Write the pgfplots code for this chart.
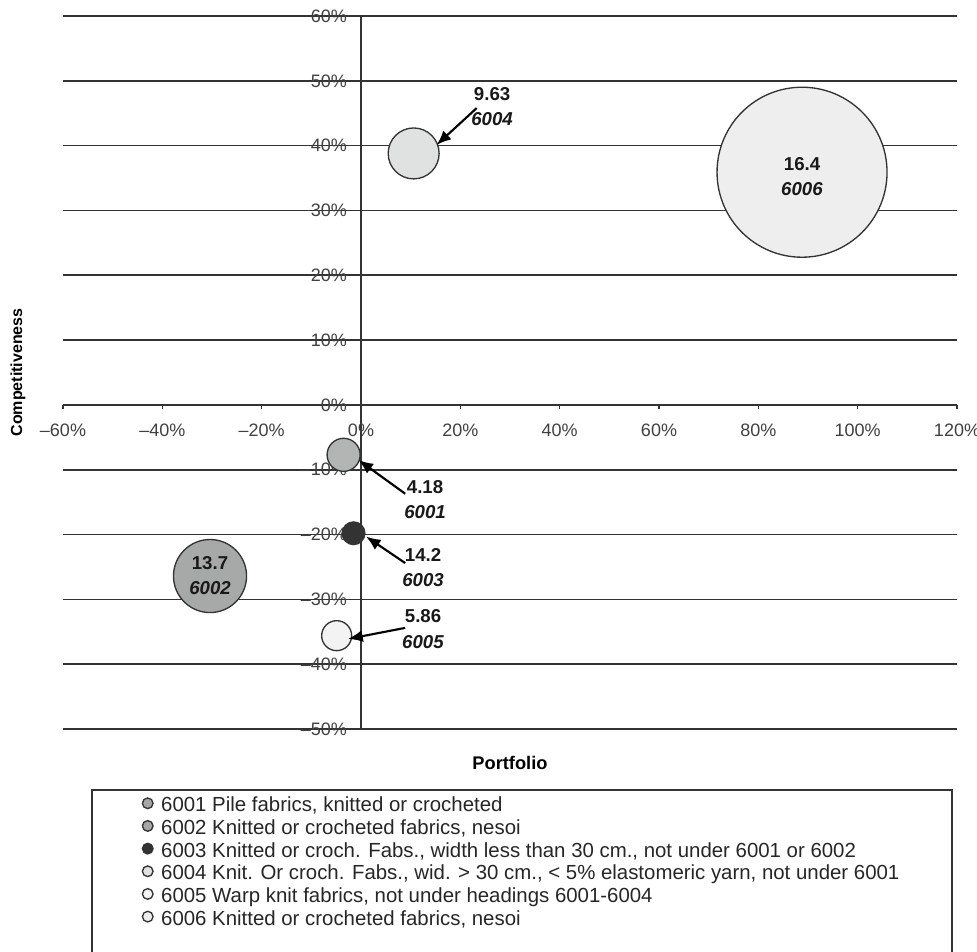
\documentclass[border=0pt]{standalone}
\usepackage{fontspec}
\setmainfont{Liberation Sans}
\usepackage{pgfplots}
\pgfplotsset{compat=1.18}
\usetikzlibrary{arrows.meta}

\definecolor{linec}{HTML}{333333}
\definecolor{c6001}{HTML}{B3B5B5}
\definecolor{c6002}{HTML}{A7A9A9}
\definecolor{c6003}{HTML}{333333}
\definecolor{c6004}{HTML}{E0E2E2}
\definecolor{c6005}{HTML}{F3F3F3}
\definecolor{c6006}{HTML}{EEEEEE}

\begin{document}
\begin{tikzpicture}
% 1 px of the reference = 0.75pt
\useasboundingbox (-47.25pt,-166.5pt) rectangle (685.5pt,546.75pt);
\begin{axis}[
  at={(0pt,0pt)}, anchor=south west,
  scale only axis, width=670.5pt, height=534.75pt,
  xmin=-60, xmax=120, ymin=-50, ymax=60,
  axis lines=middle,
  axis line style={-, draw=linec, line width=1.2pt},
  hide obscured x ticks=false, hide obscured y ticks=false,
  xtick={-60,-40,-20,0,20,40,60,80,100,120},
  xticklabels={--60\%,--40\%,--20\%,0\%,20\%,40\%,60\%,80\%,100\%,120\%},
  ytick={-50,-40,-30,-20,-10,0,10,20,30,40,50,60},
  yticklabels={--50\%,--40\%,--30\%,--20\%,--10\%,0\%,10\%,20\%,30\%,40\%,50\%,60\%},
  ymajorgrids, grid style={draw=linec, line width=1.2pt},
  major tick length=3pt, tick align=outside,
  tick style={draw=linec, line width=1.2pt},
  ticklabel style={font=\fontsize{13.5}{16}\selectfont, text=black!75},
  xticklabel style={anchor=north, yshift=-8pt},
  yticklabel style={anchor=east, xshift=-4pt},
  xlabel={Portfolio}, ylabel={Competitiveness},
  every axis x label/.style={at={(rel axis cs:0.5,0)}, anchor=center, yshift=-25.5pt, font=\bfseries\fontsize{13.7}{16}\selectfont},
  every axis y label/.style={at={(rel axis cs:0,0.5)}, anchor=center, rotate=90, yshift=33.75pt, font=\bfseries\fontsize{12}{14}\selectfont},
  legend cell align=left,
  legend style={draw=none, fill=none, at={(rel axis cs:0,0)}, anchor=north west,
    xshift=59.35pt, yshift=-49.5pt, inner sep=0pt, row sep=0pt, column sep=6.1pt,
    font=\fontsize{15.3}{17}\selectfont, text=black!85,
    nodes={inner xsep=0pt, inner ysep=1.5pt, text height=11pt, text depth=3pt}},
  legend image code/.code={\draw[#1] plot coordinates {(0pt,2.5pt)};},
]
% bubbles: (portfolio %, competitiveness %), size as drawn
\addplot[only marks, mark=*, mark size=12.4pt, mark options={draw=linec, line width=1pt, fill=c6001}, forget plot] coordinates {(-3.5,-7.7)};
\addplot[only marks, mark=*, mark size=27.4pt, mark options={draw=linec, line width=1pt, fill=c6002}, forget plot] coordinates {(-30.4,-26.4)};
\addplot[only marks, mark=*, mark size=8.5pt, mark options={draw=linec, line width=1pt, fill=c6003}, forget plot] coordinates {(-1.5,-19.8)};
\addplot[only marks, mark=*, mark size=19.1pt, mark options={draw=linec, line width=1pt, fill=c6004}, forget plot] coordinates {(10.6,38.8)};
\addplot[only marks, mark=*, mark size=11.25pt, mark options={draw=linec, line width=1pt, fill=c6005}, forget plot] coordinates {(-4.9,-35.6)};
\addplot[only marks, mark=*, mark size=63.75pt, mark options={draw=linec, line width=1pt, fill=c6006}, forget plot] coordinates {(88.8,35.9)};

% legend entries
\addlegendimage{only marks, mark=*, mark size=4pt, mark options={draw=linec, line width=1pt, fill=gray!70}}
\addlegendentry{6001 Pile fabrics, knitted or crocheted}
\addlegendimage{only marks, mark=*, mark size=4pt, mark options={draw=linec, line width=1pt, fill=gray!70}}
\addlegendentry{6002 Knitted or crocheted fabrics, nesoi}
\addlegendimage{only marks, mark=*, mark size=4pt, mark options={draw=linec, line width=1pt, fill=c6003}}
\addlegendentry{6003 Knitted or croch. Fabs., width less than 30 cm., not under 6001 or 6002}
\addlegendimage{only marks, mark=*, mark size=4pt, mark options={draw=linec, line width=1pt, fill=c6004}}
\addlegendentry{6004 Knit. Or croch. Fabs., wid. > 30 cm., < 5\% elastomeric yarn, not under 6001}
\addlegendimage{only marks, mark=*, mark size=4pt, mark options={draw=linec, line width=1pt, fill=c6005}}
\addlegendentry{6005 Warp knit fabrics, not under headings 6001-6004}
\addlegendimage{only marks, mark=*, mark size=4pt, mark options={draw=linec, line width=1pt, fill=c6006}}
\addlegendentry{6006 Knitted or crocheted fabrics, nesoi}

% anchor points for the data labels and arrows
\coordinate (l6004) at (axis cs:26.4,46.0);
\coordinate (l6006) at (axis cs:88.8,35.2);
\coordinate (l6001) at (axis cs:12.9,-14.6);
\coordinate (l6003) at (axis cs:12.5,-25.1);
\coordinate (l6005) at (axis cs:12.5,-34.6);
\coordinate (l6002) at (axis cs:-30.4,-26.3);
\coordinate (t6004) at (axis cs:23.3,45.8);  \coordinate (h6004) at (axis cs:15.2,40.1);
\coordinate (t6001) at (axis cs:8.9,-13.7);  \coordinate (h6001) at (axis cs:-0.5,-8.5);
\coordinate (t6003) at (axis cs:8.9,-24.4);  \coordinate (h6003) at (axis cs:1.0,-20.3);
\coordinate (t6005) at (axis cs:8.9,-34.4);  \coordinate (h6005) at (axis cs:-2.6,-36.1);
\end{axis}
% data labels and arrows above the bubbles
\begin{scope}[every node/.style={font=\bfseries\fontsize{14}{19}\selectfont, align=center, text=black!90}]
\node at (l6004) {9.63\\\textit{6004}};
\node at (l6006) {16.4\\\textit{6006}};
\node at (l6001) {4.18\\\textit{6001}};
\node at (l6003) {14.2\\\textit{6003}};
\node at (l6005) {5.86\\\textit{6005}};
\node at (l6002) {13.7\\\textit{6002}};
\end{scope}
\begin{scope}[-{Latex[length=11pt,width=9pt]}, line width=1.6pt, black]
\draw (t6004) -- (h6004);
\draw (t6001) -- (h6001);
\draw (t6003) -- (h6003);
\draw (t6005) -- (h6005);
\end{scope}
% legend frame (bottom edge lies below the picture)
\draw[linec, line width=1pt] (21.75pt,-170pt) -- (21.75pt,-45.75pt) -- (666.75pt,-45.75pt) -- (666.75pt,-170pt);
\end{tikzpicture}
\end{document}
